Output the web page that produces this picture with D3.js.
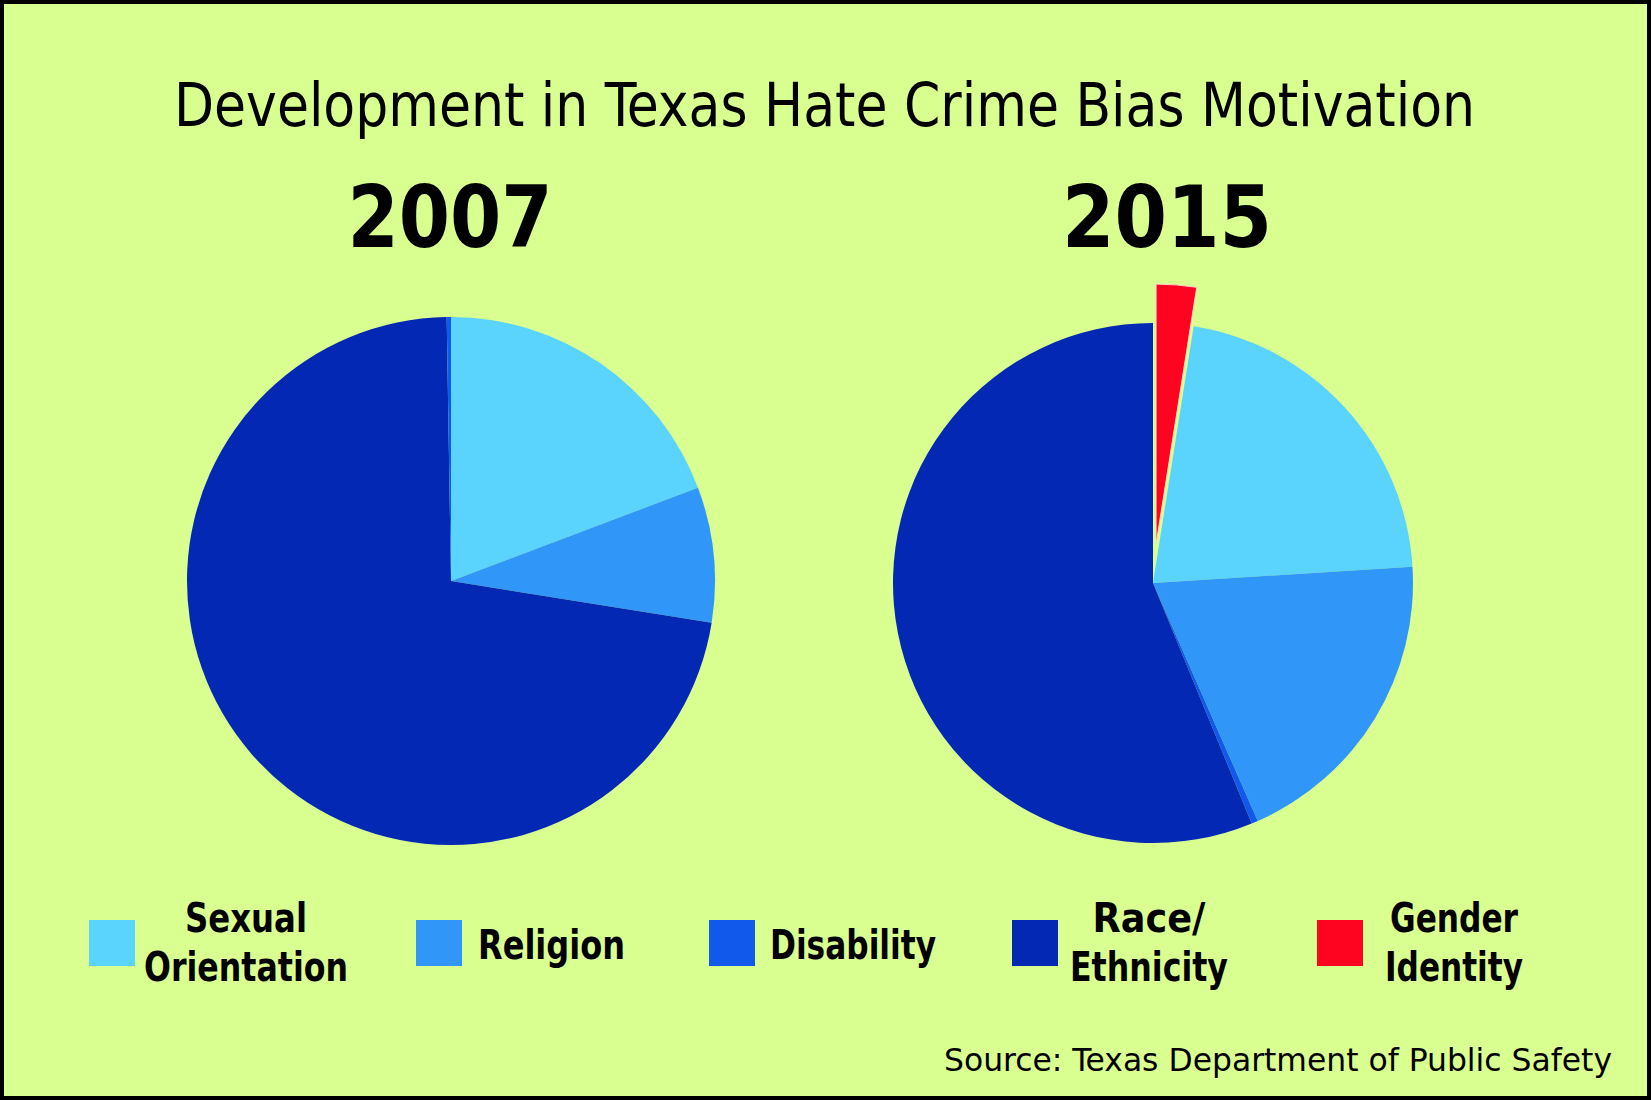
<!DOCTYPE html>
<html>
<head>
<meta charset="utf-8">
<script src="https://cdn.jsdelivr.net/npm/d3@7"></script>
<style>
  html, body { margin: 0; padding: 0; background: #ffffff; }
  svg { display: block; }
</style>
</head>
<body>
<svg id="chart" width="1651" height="1100"></svg>
<script>
// ---- Data ----
const categories = ["Sexual Orientation", "Religion", "Disability", "Race/Ethnicity", "Gender Identity"];
const legendLines = [["Sexual", "Orientation"], ["Religion"], ["Disability"], ["Race/", "Ethnicity"], ["Gender", "Identity"]];
const years = ["2007", "2015"];
// percent share of incidents by bias motivation
const values2007 = [19.25, 8.28, 0.26, 72.21, 0];
const values2015 = [21.5, 19.4, 0.4, 56.2, 2.5];
// clockwise slice order from 12 o'clock in each pie
const order2007 = ["Sexual Orientation", "Religion", "Race/Ethnicity", "Disability"];
const order2015 = ["Gender Identity", "Sexual Orientation", "Religion", "Disability", "Race/Ethnicity"];
const explodedCategory = "Gender Identity";

const titleText = "Development in Texas Hate Crime Bias Motivation";
const sourceText = "Source: Texas Department of Public Safety";

// ---- Styling ----
const colors = d3.scaleOrdinal()
  .domain(categories)
  .range(["#5ad3fd", "#3097f8", "#1159eb", "#0329b4", "#ff0421"]);
const bg = "#d9ff91";
const narrow = "'Liberation Sans Narrow', 'DejaVu Sans Condensed', 'Liberation Sans', sans-serif";

const W = 1651, H = 1100;
const svg = d3.select("#chart");

svg.append("rect").attr("x", 0).attr("y", 0).attr("width", W).attr("height", H).attr("fill", "#000");
svg.append("rect").attr("x", 4).attr("y", 4).attr("width", W - 8).attr("height", H - 8).attr("fill", bg);

// Title
svg.append("text")
  .attr("x", 824.5).attr("y", 126)
  .attr("text-anchor", "middle")
  .attr("font-family", narrow)
  .attr("font-size", 60)
  .attr("textLength", 1301).attr("lengthAdjust", "spacingAndGlyphs")
  .attr("fill", "#000")
  .text(titleText);

// Pies
const pies = [
  { year: years[0], values: values2007, order: order2007, cx: 451, cy: 581, r: 264, yearX: 450, yearW: 205 },
  { year: years[1], values: values2015, order: order2015, cx: 1153, cy: 583, r: 260, yearX: 1167, yearW: 210 }
];

pies.forEach(p => {
  svg.append("text")
    .attr("x", p.yearX).attr("y", 247)
    .attr("text-anchor", "middle")
    .attr("font-family", narrow)
    .attr("font-weight", "bold")
    .attr("font-size", 86)
    .attr("textLength", p.yearW).attr("lengthAdjust", "spacingAndGlyphs")
    .attr("fill", "#000")
    .text(p.year);

  const rows = p.order.map(c => ({ cat: c, value: p.values[categories.indexOf(c)] }));
  const arcs = d3.pie().sort(null).value(d => d.value)(rows);
  const arcGen = d3.arc().innerRadius(0).outerRadius(p.r);
  const g = svg.append("g").attr("transform", `translate(${p.cx},${p.cy})`);

  g.selectAll("path")
    .data(arcs)
    .join("path")
    .attr("d", arcGen)
    .attr("fill", d => colors(d.data.cat))
    .attr("stroke", d => d.data.cat === explodedCategory ? "#ffd6c8" : "none")
    .attr("stroke-width", d => d.data.cat === explodedCategory ? 1 : 0)
    .attr("transform", d => {
      if (d.data.cat !== explodedCategory) return null;
      const mid = (d.startAngle + d.endAngle) / 2;
      const off = 39;
      return `translate(${off * Math.sin(mid)},${-off * Math.cos(mid)})`;
    });
});

// Legend
const legendItems = [
  { sx: 89, tx: 246, anchor: "middle", widths: [122, 204] },
  { sx: 416, tx: 478, anchor: "start", widths: [147] },
  { sx: 709, tx: 770, anchor: "start", widths: [166] },
  { sx: 1012, tx: 1149, anchor: "middle", widths: [113, 158] },
  { sx: 1317, tx: 1454, anchor: "middle", widths: [128, 138] }
];

const lg = svg.append("g");
categories.forEach((c, i) => {
  const it = legendItems[i];
  lg.append("rect")
    .attr("x", it.sx).attr("y", 920)
    .attr("width", 46).attr("height", 46)
    .attr("fill", colors(c));
  const lines = legendLines[i];
  const baselines = lines.length === 1 ? [959] : [932, 981];
  lines.forEach((ln, j) => {
    lg.append("text")
      .attr("x", it.tx).attr("y", baselines[j])
      .attr("text-anchor", it.anchor)
      .attr("font-family", narrow)
      .attr("font-weight", "bold")
      .attr("font-size", 40)
      .attr("textLength", it.widths[j]).attr("lengthAdjust", "spacingAndGlyphs")
      .attr("fill", "#000")
      .text(ln);
  });
});

// Source
svg.append("text")
  .attr("x", 1612).attr("y", 1071)
  .attr("text-anchor", "end")
  .attr("font-family", narrow)
  .attr("font-size", 32)
  .attr("textLength", 668).attr("lengthAdjust", "spacingAndGlyphs")
  .attr("fill", "#000")
  .text(sourceText);
</script>
</body>
</html>
